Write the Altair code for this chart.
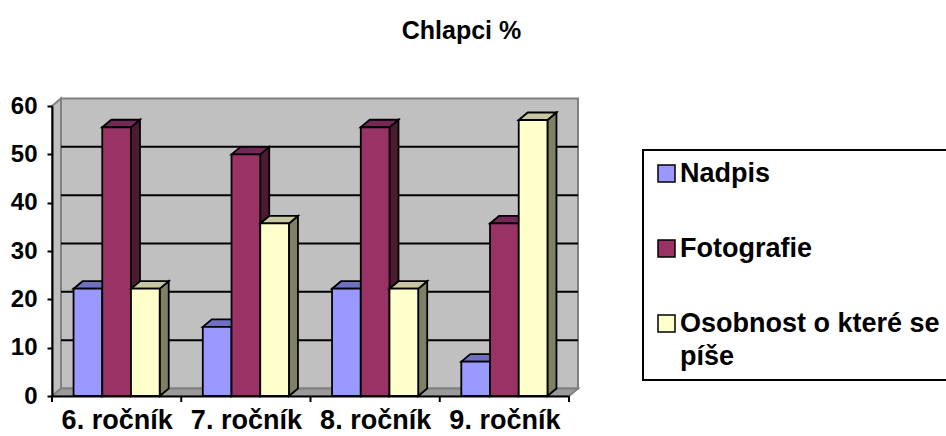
import json

import altair as alt
import pandas as pd

# ---- data -------------------------------------------------------------
grades = ["6. ročník", "7. ročník", "8. ročník", "9. ročník"]
series = ["Nadpis", "Fotografie", "Osobnost o které se píše"]
nadpis = [22.2, 14.3, 22.2, 7.1]
fotografie = [55.6, 50.0, 55.6, 35.7]
osobnost = [22.2, 35.7, 22.2, 57.1]
values = [nadpis, fotografie, osobnost]
y_ticks = [0, 10, 20, 30, 40, 50, 60]

# ---- styling ----------------------------------------------------------
front_colors = ["#9999FF", "#993366", "#FFFFCC"]
top_colors = ["#7070C0", "#74285A", "#C8C8A0"]
side_colors = ["#4D4D80", "#4D1A33", "#808066"]
WALL = "#C0C0C0"
FLOOR = "#9A9A9A"
EDGE = "#808080"
FONT = "Liberation Sans"

PLOT_W, PLOT_H = 517, 290
Y_MAX = 60
N = len(grades)
DEPTH_PX, RISE_PX = 9, 7.5          # depth of the 3-D effect, in pixels
DX = DEPTH_PX / (PLOT_W / N)        # ... converted to data units
DY = RISE_PX / (PLOT_H / Y_MAX)
GAP = 1.5                           # gap between clusters, in bar widths
BAR = 1 / (len(series) + GAP)

# ---- polygons for the 3-D bars (front, top and side faces) -------------
faces = {kind: [] for kind in ("side", "top", "front")}
for i in range(N):
    for j, name in enumerate(series):
        v = values[j][i]
        xl = i + (GAP / 2 + j) * BAR
        xr = xl + BAR
        pts = {
            "side": [(xr, v, 0), (xr + DX, v + DY, DY)],
            "top": [(xl, v, v), (xl + DX, v + DY, v), (xr, v + DY, v),
                    (xr + DX, v + DY, v + DY)],
            "front": [(xl, v, 0), (xr, v, 0)],
        }
        fills = {"side": side_colors[j], "top": top_colors[j], "front": front_colors[j]}
        for kind, plist in pts.items():
            for x, y, y2 in plist:
                faces[kind].append(dict(face=f"{i}-{j}-{kind}", series=name, j=j,
                                        x=x, y=y, y2=y2, fill=fills[kind]))

walls = pd.DataFrame(
    [dict(part="back", x=DX, y=Y_MAX + DY, y2=DY, fill=WALL),
     dict(part="back", x=N + DX, y=Y_MAX + DY, y2=DY, fill=WALL),
     dict(part="left", x=0, y=Y_MAX, y2=0, fill=WALL),
     dict(part="left", x=DX, y=Y_MAX + DY, y2=DY, fill=WALL),
     dict(part="floor", x=0, y=0, y2=0, fill=FLOOR),
     dict(part="floor", x=DX, y=DY, y2=0, fill=FLOOR),
     dict(part="floor", x=N, y=DY, y2=0, fill=FLOOR),
     dict(part="floor", x=N + DX, y=DY, y2=DY, fill=FLOOR)]
)
grid = pd.DataFrame({"y": [t + DY for t in y_ticks[1:-1]], "x": DX, "x2": N + DX})
bounds = pd.DataFrame({"b": list(range(N + 1))})

x_scale = alt.Scale(domain=[0, N], nice=False, zero=False)
y_scale = alt.Scale(domain=[0, Y_MAX], nice=False)

label_expr = "{}[floor(datum.value)]".format(json.dumps(grades, ensure_ascii=False))
x_axis = alt.Axis(values=[i + 0.5 for i in range(N)], labelExpr=label_expr, ticks=False,
                  grid=False, title=None, domainColor="black", domainWidth=2,
                  labelFont=FONT, labelFontSize=27, labelFontWeight="bold",
                  labelColor="black", labelPadding=3, zindex=1)
y_axis = alt.Axis(values=y_ticks, grid=False, title=None, domainColor="black",
                  domainWidth=2, tickColor="black", tickWidth=2, tickSize=5,
                  labelFont=FONT, labelFontSize=24, labelFontWeight="bold",
                  labelColor="black", labelPadding=10, labelOffset=-8.5, zindex=1)

X = alt.X("x:Q", scale=x_scale, axis=x_axis)
Y = alt.Y("y:Q", scale=y_scale, axis=y_axis)

wall_layer = alt.Chart(walls).mark_area(stroke=EDGE, strokeWidth=2).encode(
    x=X, y=Y, y2="y2:Q", detail="part:N", fill=alt.Fill("fill:N", scale=None)
)
grid_layer = alt.Chart(grid).mark_rule(color="black", strokeWidth=2).encode(
    x="x:Q", x2="x2:Q", y="y:Q"
)
tick_layer = alt.Chart(bounds).mark_rule(color="black", strokeWidth=2, y2Offset=6).encode(
    x="b:Q", y=alt.datum(0), y2=alt.datum(0)
)

legend = alt.Legend(
    title=None, orient="none", legendX=591, legendY=44, symbolType="square",
    symbolSize=289, symbolStrokeColor="black", symbolStrokeWidth=1.5, symbolOpacity=1,
    labelFont=FONT, labelFontSize=27, labelFontWeight="bold", labelColor="black",
    labelOffset=0, labelLimit=1000, labelBaseline="alphabetic", rowPadding=48,
    padding=10, strokeColor="black",
    labelExpr="datum.label == 'Osobnost o které se píše' ? "
              "['Osobnost o které se', 'píše'] : datum.label",
)

bar_layers = []
for j in range(len(series)):
    for kind in ("side", "top", "front"):
        df = pd.DataFrame([r for r in faces[kind] if r["j"] == j])
        base = alt.Chart(df).mark_area(stroke="black", strokeWidth=1.8, strokeJoin="miter")
        if kind == "front":
            enc = base.encode(
                x="x:Q", y="y:Q", y2="y2:Q", detail="face:N",
                color=alt.Color("series:N",
                                scale=alt.Scale(domain=series, range=front_colors),
                                legend=legend),
            )
        else:
            enc = base.encode(x="x:Q", y="y:Q", y2="y2:Q", detail="face:N",
                              fill=alt.Fill("fill:N", scale=None))
        bar_layers.append(enc)

chart = (
    alt.layer(wall_layer, grid_layer, *bar_layers, tick_layer)
    .properties(
        width=PLOT_W, height=PLOT_H, autosize="none",
        padding={"left": 52, "top": 106, "right": 946 - 52 - PLOT_W, "bottom": 436 - 106 - PLOT_H},
        title=alt.TitleParams("Chlapci %", font=FONT, fontSize=25, fontWeight="bold",
                              color="black", anchor="middle", dx=151, offset=50),
        background="white",
    )
    .configure(style={"guide-label": {"dy": 8.5, "lineHeight": 33}})
    .configure_view(stroke=None)
    .configure_legend(strokeWidth=2)
)

chart.save("out.html", embed_options={"renderer": "svg", "actions": False})
